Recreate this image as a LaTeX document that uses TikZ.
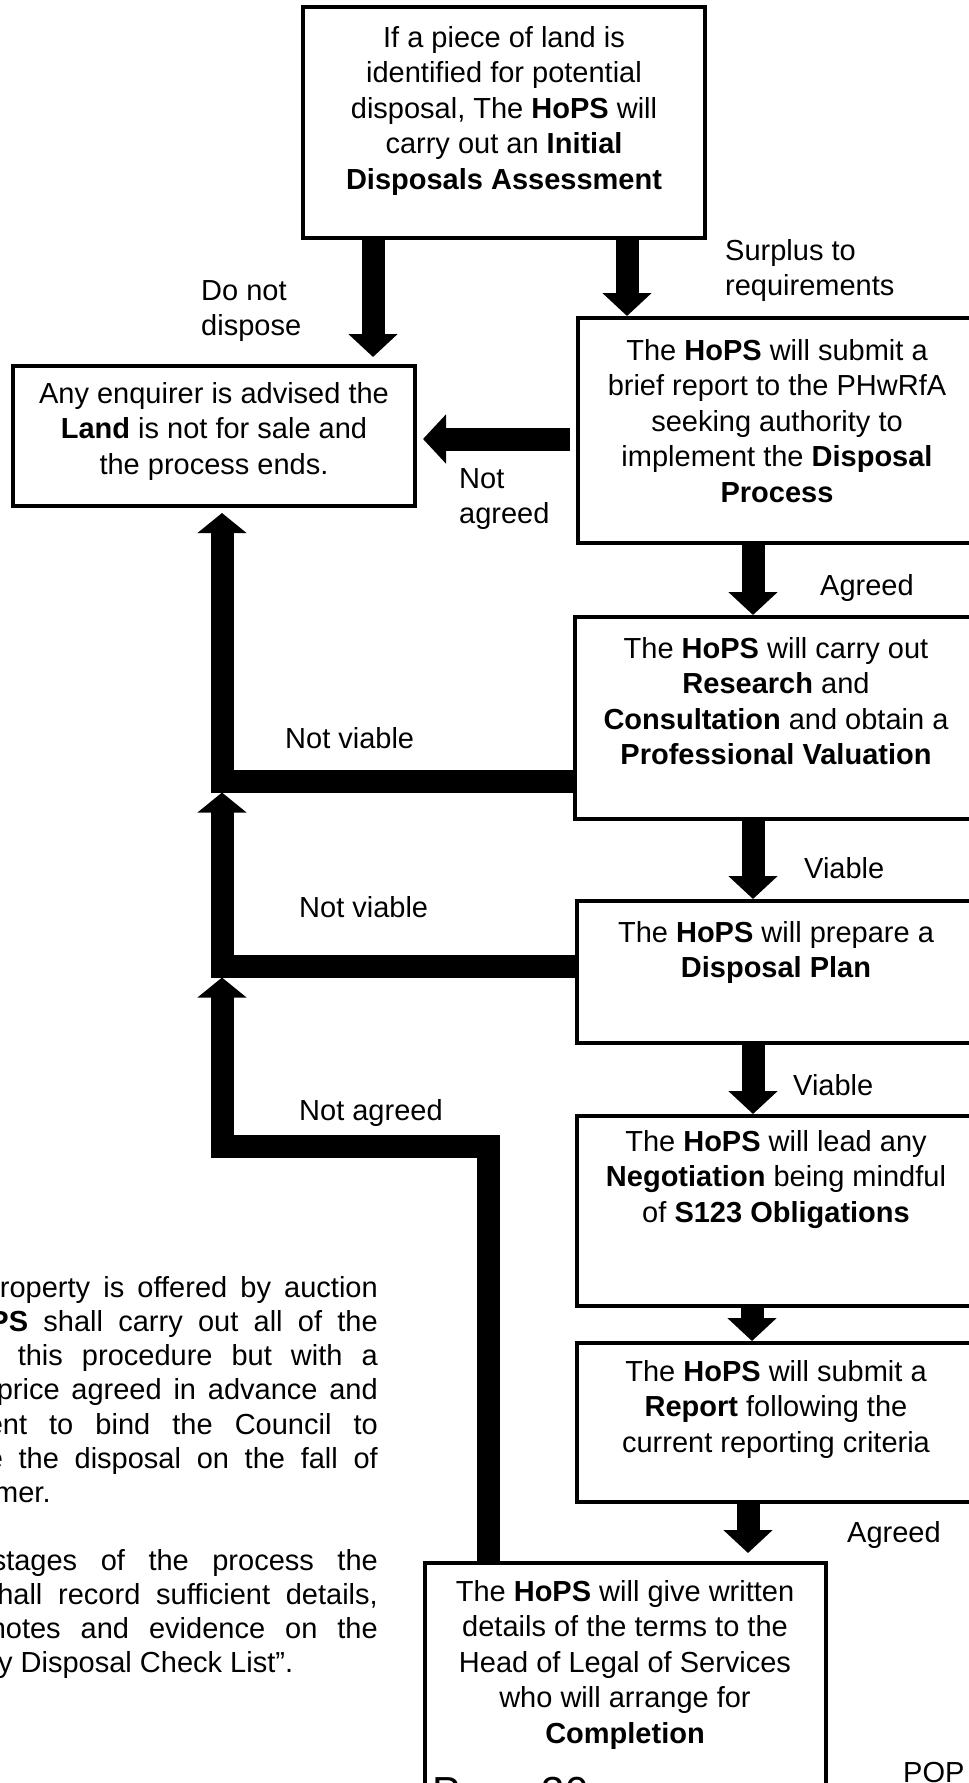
\documentclass[tikz,border=0pt]{standalone}
\usepackage{fontspec}
\setmainfont{Liberation Sans}
\usetikzlibrary{arrows.meta,positioning}

\begin{document}
\begin{tikzpicture}[x=1pt, y=-1pt,
    box/.style={draw, line width=4pt, inner sep=0pt},
    body/.style={font=\fontsize{29}{35.5}\selectfont, inner sep=0pt},
    txt/.style={body, align=center, anchor=north, yshift=24.85pt, execute at begin node=\strut},
    lbl/.style={body, align=left, anchor=north west, yshift=24.85pt, execute at begin node=\strut},
    tag/.style={body, anchor=base west},
    para/.style={body, anchor=base east},
    flow/.style={line width=23pt, -{Triangle[width=48pt, length=23pt]}},
    back/.style={line width=23pt, line join=miter, -{Triangle[width=48pt, length=20pt]}}]

    \path[use as bounding box, clip] (0,0) rectangle (969,1783);

    % Boxes
    \node[box, minimum width=402pt, minimum height=231pt] (assess) at (504,122.5) {};
    \node[box, minimum width=402pt, minimum height=140pt] (enquirer) at (214,436) {};
    \node[box, minimum width=398pt, minimum height=225pt] (brief) at (777,430.5) {};
    \node[box, minimum width=401pt, minimum height=202pt] (research) at (775.5,718) {};
    \node[box, minimum width=399pt, minimum height=142pt] (plan) at (776.5,972) {};
    \node[box, minimum width=399pt, minimum height=190pt] (negotiate) at (776.5,1211) {};
    \node[box, minimum width=399pt, minimum height=159pt] (report) at (776.5,1422.5) {};
    \node[box, minimum width=401pt, minimum height=267pt] (complete) at (625.5,1696.5) {};

    % Box texts
    \node[txt] (t1) at (504,51) {If a piece of land is\\identified for potential\\disposal, The \textbf{HoPS} will\\carry out an \textbf{Initial}\\\textbf{Disposals Assessment}};
    \node[txt] (t0) at (214,407) {Any enquirer is advised the\\\textbf{Land} is not for sale and\\the process ends.};
    \node[txt] (t2) at (777,364) {The \textbf{HoPS} will submit a\\brief report to the PHwRfA\\seeking authority to\\implement the \textbf{Disposal}\\\textbf{Process}};
    \node[txt] (t3) at (776,662) {The \textbf{HoPS} will carry out\\\textbf{Research} and\\\textbf{Consultation} and obtain a\\\textbf{Professional Valuation}};
    \node[txt] (t4) at (776,946) {The \textbf{HoPS} will prepare a\\\textbf{Disposal Plan}};
    \node[txt] (t5) at (776,1155) {The \textbf{HoPS} will lead any\\\textbf{Negotiation} being mindful\\of \textbf{S123 Obligations}};
    \node[txt] (t6) at (776,1385) {The \textbf{HoPS} will submit a\\\textbf{Report} following the\\current reporting criteria};
    \node[txt] (t7) at (625,1605) {The \textbf{HoPS} will give written\\details of the terms to the\\Head of Legal of Services\\who will arrange for\\\textbf{Completion}};

    % Labels
    \node[lbl] (l1) at (201,305) {Do not\\dispose};
    \node[lbl] (l2) at (725,264) {Surplus to\\requirements};
    \node[lbl] (l3) at (459,493) {Not\\agreed};
    \node[tag] (l4) at (820,595) {Agreed};
    \node[tag] (l5) at (285,748) {Not viable};
    \node[tag] (l6) at (804,878) {Viable};
    \node[tag] (l7) at (299,917) {Not viable};
    \node[tag] (l8) at (793,1095) {Viable};
    \node[tag] (l9) at (299,1120) {Not agreed};
    \node[tag] (l10) at (847,1542) {Agreed};

    % Forward arrows
    \draw[flow, shorten >=7pt] (assess.south -| 373,0) -- (enquirer.north -| 373,0);
    \draw[flow] (assess.south -| 627,0) -- (brief.north -| 627,0);
    \draw[flow, shorten <=6pt, shorten >=6pt] (brief.west |- 0,439) -- (enquirer.east |- 0,439);
    \draw[flow] (brief.south -| 753,0) -- (research.north -| 753,0);
    \draw[flow] (research.south -| 753,0) -- (plan.north -| 753,0);
    \draw[flow] (plan.south -| 753,0) -- (negotiate.north -| 753,0);
    \draw[flow] (negotiate.south -| 752,0) -- (report.north -| 752,0);
    \draw[flow, shorten >=8pt] (report.south -| 748,0) -- (complete.north -| 748,0);

    % Return paths
    \coordinate (j1) at (222,781);
    \coordinate (j2) at (222,966);
    \coordinate (j3) at (222,1146);
    \draw[back, shorten >=5pt] (research.west |- j1) -- (j1) -- (enquirer.south -| j1);
    \draw[back, shorten >=11.5pt] (plan.west |- j2) -- (j2) -- (j1);
    \draw[back, shorten >=11.5pt] (complete.north -| 488,0) -- (j3 -| 488,0) -- (j3) -- (j2);

    % Side note
    \node[para] (p1) at (378,1297) {\makebox[394pt][s]{property is offered by auction}};
    \node[para] (p2) at (378,1331.3) {\makebox[427pt][s]{\textbf{HoPS} shall carry out all of the}};
    \node[para] (p3) at (378,1365.6) {\makebox[360pt][s]{this procedure but with a}};
    \node[para] (p4) at (378,1399.9) {\makebox[381pt][s]{price agreed in advance and}};
    \node[para] (p5) at (378,1434.2) {\makebox[391pt][s]{ent to bind the Council to}};
    \node[para] (p6) at (378,1468.5) {\makebox[391pt][s]{e the disposal on the fall of}};
    \node[tag] (p7) at (-6,1502.8) {mer.};
    \node[para] (p8) at (378,1570) {\makebox[386pt][s]{stages of the process the}};
    \node[para] (p9) at (378,1604.3) {\makebox[395pt][s]{shall record sufficient details,}};
    \node[para] (p10) at (378,1638.6) {\makebox[388pt][s]{notes and evidence on the}};
    \node[tag] (p11) at (-2,1672.9) {y Disposal Check List”.};

    % Footer
    \node[inner sep=0pt, anchor=base west, font=\fontsize{42}{50}\selectfont] (page) at (432,1806) {Page 30};
    \node[tag] (pop) at (903,1782) {POP};
\end{tikzpicture}
\end{document}
